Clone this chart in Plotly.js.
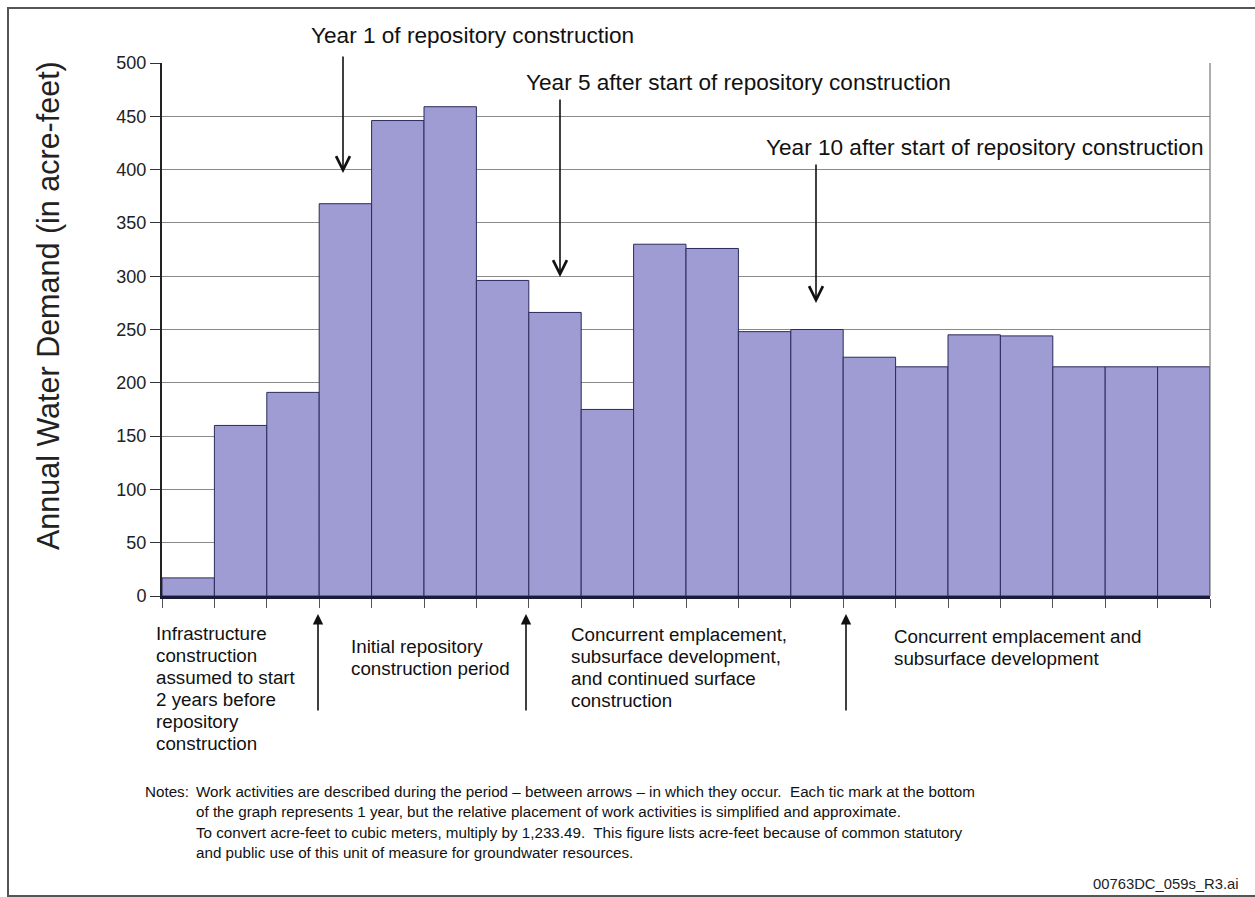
<!DOCTYPE html>
<html>
<head>
<meta charset="utf-8">
<script src="https://cdn.plot.ly/plotly-3.0.1.min.js"></script>
<style>html,body{margin:0;padding:0;background:#fff;}#chart{width:1255px;height:897px;}</style>
</head>
<body>
<div id="chart"></div>
<script>
// ---- data ----
var yearIndex = [0,1,2,3,4,5,6,7,8,9,10,11,12,13,14,15,16,17,18,19];
var waterDemand = [17,160,191,368,446,459,296,266,175,330,326,248,250,224,215,245,244,215,215,215];
var yTickVals = [0,50,100,150,200,250,300,350,400,450,500];
var yTickText = ['0','50','100','150','200','250','300','350','400','450','500'];
var yearTickVals = [-0.5,0.5,1.5,2.5,3.5,4.5,5.5,6.5,7.5,8.5,9.5,10.5,11.5,12.5,13.5,14.5,15.5,16.5,17.5,18.5,19.5];
var yTitle = 'Annual Water Demand (in acre-feet)';
var topLabels = ['Year 1 of repository construction','Year 5 after start of repository construction','Year 10 after start of repository construction'];
var periodLabels = [
  ['Infrastructure','construction','assumed to start','2 years before','repository','construction'],
  ['Initial repository','construction period'],
  ['Concurrent emplacement,','subsurface development,','and continued surface','construction'],
  ['Concurrent emplacement and','subsurface development']
];
var notesHead = 'Notes:';
var notes1 = 'Work activities are described during the period \u2013 between arrows \u2013 in which they occur.  Each tic mark at the bottom<br>of the graph represents 1 year, but the relative placement of work activities is simplified and approximate.';
var notes2 = 'To convert acre-feet to cubic meters, multiply by 1,233.49.  This figure lists acre-feet because of common statutory<br>and public use of this unit of measure for groundwater resources.';
var fileId = '00763DC_059s_R3.ai';

// ---- layout helpers (pixel -> paper) ----
var L = 162, R = 1210, T = 63, B = 596;
function px(x){ return (x - L) / (R - L); }
function py(y){ return (B - y) / (B - T); }

var FONT = 'Liberation Sans, Arial, sans-serif';

var trace = {
  type: 'bar',
  x: yearIndex,
  y: waterDemand,
  width: 1,
  marker: {color: '#9f9bd3', line: {color: '#2b2b5c', width: 1}},
  hoverinfo: 'y'
};

var annotations = [];
// top labels
var topPos = [[472,35],[738,83],[984,148]];
topLabels.forEach(function(t,i){
  annotations.push({x: px(topPos[i][0]), y: py(topPos[i][1]), xref:'paper', yref:'paper', text: t, showarrow:false, xanchor:'center', yanchor:'middle', font:{family:FONT,size:22.6,color:'#111'}});
});
// down arrows
var downArrows = [[343,173,55],[560,277,98],[816,303,163]];
downArrows.forEach(function(a){
  annotations.push({x: px(a[0]), y: py(a[1]), xref:'paper', yref:'paper', text:'', showarrow:true, ax:0, ay:a[2]-a[1], arrowhead:5, arrowsize:1.7, arrowwidth:1.6, arrowcolor:'#111'});
});
// up arrows below axis
var upArrows = [318, 526, 846];
upArrows.forEach(function(x){
  annotations.push({x: px(x), y: py(614), xref:'paper', yref:'paper', text:'', showarrow:true, ax:0, ay:98, arrowhead:2, arrowsize:1.3, arrowwidth:1.6, arrowcolor:'#111'});
});
// period labels, one annotation per line (line pitch 22 px)
var periodPos = [[154,633],[349,646],[569,634],[892,636]];
periodLabels.forEach(function(lines,i){
  lines.forEach(function(t,j){
    annotations.push({x: px(periodPos[i][0]), y: py(periodPos[i][1] + 22*j), xref:'paper', yref:'paper', text:t, showarrow:false, xanchor:'left', yanchor:'middle', align:'left', font:{family:FONT,size:18.8,color:'#111'}});
  });
});
// notes
annotations.push({x: px(143), y: py(781), xref:'paper', yref:'paper', text:notesHead, showarrow:false, xanchor:'left', yanchor:'top', font:{family:FONT,size:15.2,color:'#111'}});
annotations.push({x: px(194), y: py(781), xref:'paper', yref:'paper', text:notes1, showarrow:false, xanchor:'left', yanchor:'top', align:'left', font:{family:FONT,size:15.2,color:'#111'}});
annotations.push({x: px(194), y: py(822), xref:'paper', yref:'paper', text:notes2, showarrow:false, xanchor:'left', yanchor:'top', align:'left', font:{family:FONT,size:15.2,color:'#111'}});
annotations.push({x: px(1241), y: py(884), xref:'paper', yref:'paper', text:fileId, showarrow:false, xanchor:'right', yanchor:'middle', font:{family:FONT,size:14.8,color:'#222'}});
// y title
annotations.push({x: px(48), y: py(306), xref:'paper', yref:'paper', text:yTitle, showarrow:false, textangle:-90, xanchor:'center', yanchor:'middle', font:{family:FONT,size:30.5,color:'#222'}});

var shapes = [
  {type:'line', xref:'paper', yref:'paper', x0:1, x1:1, y0:0, y1:1, line:{color:'#777', width:1.2}},
  {type:'rect', xref:'paper', yref:'paper', x0:px(8), x1:px(1262), y0:py(896), y1:py(8), line:{color:'#555', width:2}, layer:'below'}
];

var layout = {
  width: 1255, height: 897,
  margin: {l: L, r: 1255 - R, t: T, b: 897 - B, pad: 0},
  paper_bgcolor: '#fff', plot_bgcolor: '#fff',
  showlegend: false,
  bargap: 0,
  font: {family: FONT, color: '#222'},
  xaxis: {
    range: [-0.5, 19.5], fixedrange: true,
    tickmode: 'array', tickvals: yearTickVals, showticklabels: false,
    ticks: 'outside', ticklen: 9, tickcolor: '#555', tickwidth: 1,
    showgrid: false, zeroline: false,
    showline: true, linecolor: '#1a1a3a', linewidth: 2.5
  },
  yaxis: {
    range: [0, 500], fixedrange: true,
    tickmode: 'array', tickvals: yTickVals, ticktext: yTickText,
    ticks: 'outside', ticklen: 10, tickcolor: '#333', tickwidth: 1,
    tickfont: {family: FONT, size: 18, color: '#222'},
    showgrid: true, gridcolor: '#8a8a8a', gridwidth: 1,
    zeroline: false,
    showline: true, linecolor: '#222', linewidth: 2
  },
  annotations: annotations,
  shapes: shapes
};

Plotly.newPlot('chart', [trace], layout, {displayModeBar: false, staticPlot: true});
</script>
</body>
</html>
